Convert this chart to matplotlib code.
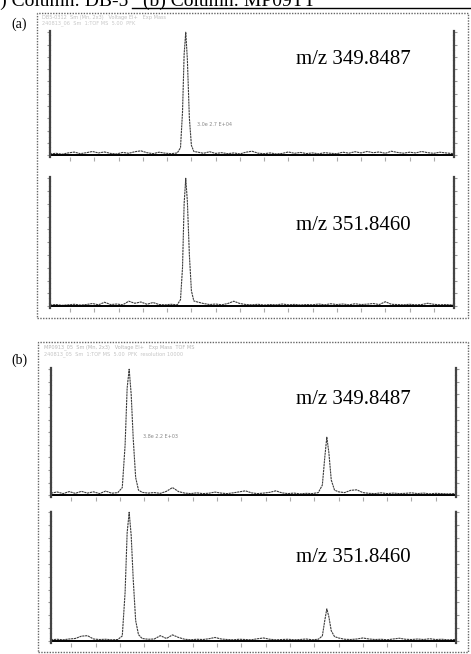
import matplotlib.pyplot as plt
from matplotlib.patches import Rectangle
from matplotlib.lines import Line2D

# chromatogram traces, relative retention time (0-100) vs relative intensity (%)
a_t = [0, 1.5, 3, 4.5, 6, 7.5, 9, 10.5, 12, 13.5,
       15, 16.5, 18, 19.5, 21, 22.5, 24, 25.5, 27, 28.5,
       30, 31.5, 32.3, 32.8, 33.2, 33.6, 34.0, 34.5, 35.0, 35.6,
       36.5, 38, 39.5, 41, 42.5, 44, 45.5, 47, 48.5, 50,
       51.5, 53, 54.5, 56, 57.5, 59, 60.5, 62, 63.5, 65,
       66.5, 68, 69.5, 71, 72.5, 74, 75.5, 77, 78.5, 80,
       81.5, 83, 84.5, 86, 87.5, 89, 90.5, 92, 93.5, 95,
       96.5, 98, 100]
a1_y = [1.0, 1.5, 0.8, 1.8, 2.5, 1.2, 2.0, 3.0, 1.8, 2.6,
        1.4, 1.0, 2.2, 1.5, 2.8, 3.5, 2.0, 1.2, 2.4, 1.6,
        1.2, 1.8, 6.0, 35.0, 82.0, 100.0, 78.0, 30.0, 8.0, 3.0,
        2.5, 1.5, 2.8, 1.4, 2.0, 1.2, 1.8, 1.0, 2.4, 3.2,
        1.6, 1.2, 1.8, 1.0, 1.4, 2.6, 1.5, 2.2, 1.3, 1.8,
        1.1, 2.0, 1.5, 1.2, 2.4, 1.6, 2.8, 1.8, 3.0, 2.0,
        2.6, 1.5, 3.2, 2.2, 1.6, 2.4, 1.8, 3.0, 2.0, 1.5,
        2.4, 1.8, 1.2]
a2_y = [0.8, 1.2, 0.6, 1.0, 1.4, 0.8, 1.2, 2.0, 1.0, 3.0,
        1.2, 1.6, 1.0, 3.8, 2.2, 3.2, 1.4, 2.8, 1.2, 1.0,
        1.4, 1.0, 5.0, 30.0, 80.0, 100.0, 82.0, 40.0, 12.0, 4.0,
        3.2, 2.0, 1.2, 1.6, 1.0, 2.0, 3.8, 2.0, 1.2, 1.0,
        1.4, 0.8, 1.2, 1.0, 1.6, 1.0, 1.3, 0.9, 1.2, 1.0,
        1.6, 1.0, 1.8, 1.2, 1.6, 1.0, 1.8, 1.2, 1.5, 2.0,
        1.2, 3.4, 1.4, 1.2, 1.0, 1.4, 1.0, 1.2, 2.2, 1.4,
        1.0, 1.2, 0.8]

b_t = [0, 1.5, 3, 4.5, 6, 7.5, 9, 10.5, 12, 13.5,
       15, 16.5, 17.6, 18.3, 18.8, 19.3, 19.8, 20.3, 20.9, 21.6,
       22.5, 24, 25.5, 27, 28.5, 30, 31.5, 33, 34.5, 36,
       37.5, 39, 40.5, 42, 43.5, 45, 46.5, 48, 49.5, 51,
       52.5, 54, 55.5, 57, 58.5, 60, 61.5, 63, 64.5, 66,
       67, 67.6, 68.1, 68.6, 69.2, 70, 71, 72.5, 74, 75.5,
       77, 78.5, 80, 81.5, 83, 84.5, 86, 87.5, 89, 90.5,
       92, 93.5, 95, 96.5, 98, 100]
b1_y = [1.5, 2.5, 1.2, 2.8, 1.4, 3.0, 1.6, 2.6, 1.2, 3.2,
        1.5, 2.0, 6.0, 40.0, 85.0, 100.0, 80.0, 45.0, 14.0, 4.0,
        2.2, 1.6, 2.0, 1.4, 3.0, 6.0, 2.8, 1.6, 1.2, 1.8,
        1.2, 1.5, 2.4, 1.6, 1.2, 1.8, 2.6, 3.4, 1.8, 1.2,
        1.6, 2.2, 3.4, 1.8, 1.2, 1.6, 1.0, 1.4, 1.2, 2.0,
        8.0, 30.0, 46.0, 34.0, 12.0, 4.0, 2.6, 2.0, 3.8, 4.2,
        2.0, 1.4, 1.2, 1.8, 1.2, 1.6, 1.2, 1.4, 1.8, 1.2,
        1.6, 1.0, 1.4, 1.2, 1.0, 1.2]
b2_y = [1.0, 1.4, 1.0, 1.6, 2.0, 3.8, 4.2, 1.6, 1.2, 1.4,
        1.0, 1.2, 4.0, 38.0, 84.0, 100.0, 82.0, 48.0, 16.0, 5.0,
        2.0, 1.4, 1.6, 4.2, 2.0, 4.8, 2.8, 1.4, 1.0, 1.4,
        1.2, 1.8, 2.8, 1.6, 1.2, 1.0, 1.4, 1.2, 1.0, 1.8,
        2.4, 1.4, 1.0, 1.2, 1.4, 1.0, 1.2, 1.6, 1.0, 1.4,
        4.0, 16.0, 25.0, 19.0, 8.0, 3.5, 2.4, 1.4, 1.2, 1.6,
        2.4, 1.6, 1.2, 1.4, 1.0, 1.6, 2.2, 1.4, 1.2, 1.6,
        1.2, 1.8, 1.2, 1.4, 1.0, 1.2]

ions = ["m/z 349.8487", "m/z 351.8460"]
columns = ["(a) Column: DB-5", "(b) Column: MP09TT"]
notes = ["3.0e 2.7 E+04", "3.8e 2.2 E+03"]

W, H = 471, 654
fig = plt.figure(figsize=(W / 100, H / 100), dpi=100)
serif = ["Liberation Serif", "DejaVu Serif"]


def fx(x):
    return x / W


def fy(y):
    return 1 - y / H


def panel(x0, y0, x1, y1, t, y, label, label_y, note=None, note_xy=None):
    ax = fig.add_axes([fx(x0), fy(y1), (x1 - x0) / W, (y1 - y0) / H])
    ax.plot(t, y, color="#3c3c3c", lw=0.8, ls=(0, (2, 0.6)))
    ax.axhline(0, color="black", lw=1.4)
    ax.set_xlim(0, 100)
    ax.set_ylim(-1.5, 101)
    for s in ["top", "bottom"]:
        ax.spines[s].set_visible(False)
    for s in ["left", "right"]:
        ax.spines[s].set_linestyle((0, (1.5, 0.8)))
        ax.spines[s].set_color("#444444")
        ax.spines[s].set_linewidth(1.6)
    ax.set_xticks(range(5, 100, 6))
    ax.set_yticks(range(0, 101, 10))
    ax.tick_params(axis="x", length=3, color="#aaaaaa", direction="out", labelbottom=False)
    ax.tick_params(axis="y", length=2, color="#999999", direction="out", left=True, right=True,
                   labelleft=False)
    ax.patch.set_alpha(0)
    fig.text(fx(296), fy(label_y), label, fontsize=15, family=serif, va="center", ha="left")
    if note:
        fig.text(fx(note_xy[0]), fy(note_xy[1]), note, fontsize=3.5, color="#888888", va="center")
    return ax


# outer dotted boxes
for (x0, y0, x1, y1) in [(37, 13, 468, 318), (38, 342, 468, 652)]:
    fig.add_artist(Rectangle((fx(x0), fy(y1)), (x1 - x0) / W, (y1 - y0) / H,
                             transform=fig.transFigure, fill=False,
                             ls=(0, (1, 1)), ec="#666666", lw=1.0))

# title line (cut at the top edge as in the scan)
fig.text(fx(-15), fy(6), columns[0], fontsize=14, family=serif, va="baseline", ha="left")
fig.text(fx(143), fy(6), columns[1], fontsize=14, family=serif, va="baseline", ha="left")
fig.add_artist(Line2D([fx(132), 1], [fy(7.5), fy(7.5)], transform=fig.transFigure,
                      color="black", lw=1.0))

fig.text(fx(19), fy(24), "(a)", fontsize=10, family=serif, va="center", ha="center")
fig.text(fx(19), fy(360), "(b)", fontsize=10, family=serif, va="center", ha="center")

# faint instrument header text inside each box
fig.text(fx(42), fy(17), "DB5-0312  Sm (Mn, 2x3)   Voltage EI+   Exp Mass", fontsize=3.6,
         color="#c0c0c0", va="center")
fig.text(fx(42), fy(23), "240813_06  Sm  1:TOF MS  5.00  PFK", fontsize=3.6,
         color="#c8c8c8", va="center")
fig.text(fx(44), fy(347), "MP0913_05  Sm (Mn, 2x3)   Voltage EI+   Exp Mass  TOF MS", fontsize=3.6,
         color="#b8b8b8", va="center")
fig.text(fx(44), fy(354), "240813_05  Sm  1:TOF MS  5.00  PFK  resolution 10000", fontsize=3.6,
         color="#c4c4c4", va="center")

panel(50, 31, 454, 157, a_t, a1_y, ions[0], 60, notes[0], (197, 125))
panel(50, 177, 454, 308, a_t, a2_y, ions[1], 226)
panel(51, 368, 456, 497, b_t, b1_y, ions[0], 400, notes[1], (143, 437))
panel(51, 511, 456, 643, b_t, b2_y, ions[1], 558)

fig.savefig("out.png", dpi=100)
